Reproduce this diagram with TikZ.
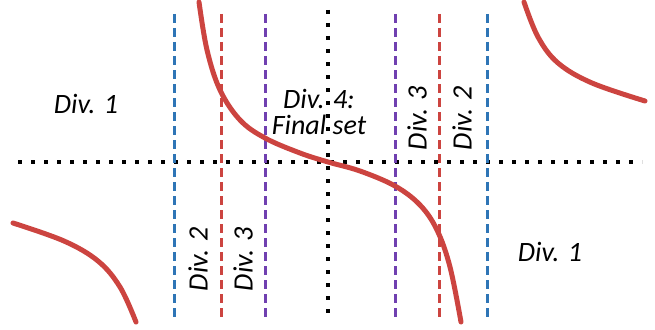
\documentclass[tikz,border=0pt]{standalone}
\usepackage{fontspec}
\setmainfont{Carlito}
\definecolor{cblue}{HTML}{2E75B6}
\definecolor{cred}{HTML}{CC4440}
\definecolor{cpurple}{HTML}{7040B0}
\begin{document}
\begin{tikzpicture}[x=1pt,y=-1pt,
  axisline/.style={line width=4pt, dash pattern=on 4pt off 9pt, black},
  divline/.style={line width=3pt, dash pattern=on 9pt off 5pt},
  curve/.style={cred, line width=5pt, line cap=round},
  lbl/.style={font=\fontsize{28}{30}\selectfont\itshape, inner sep=0pt, align=center}]
\useasboundingbox (0,0) rectangle (655,329);
% axes
\coordinate (hl) at (18,162); \coordinate (hr) at (642,162);
\coordinate (vt) at (328,10); \coordinate (vb) at (328,318);
\draw[axisline] (hl) -- (hr);
\draw[axisline] (vt) -- (vb);
% division lines
\foreach \x/\c in {174/cblue,487/cblue,221/cred,439/cred,265/cpurple,395/cpurple}{
  \draw[divline,\c] (\x,14) -- (\x,317);
}
% curves
\draw[curve] plot[smooth, tension=0.6] coordinates {(199,2) (207,50) (220,90) (240,120) (265,138) (300,153) (328,162) (360,171) (395,186) (420,205) (437,230) (450,267) (461,322)};
\draw[curve] plot[smooth, tension=0.6] coordinates {(524,2) (538,37) (558,63) (592,83) (645,101)};
\draw[curve] plot[smooth, tension=0.6] coordinates {(136,322) (120,287) (98,261) (64,241) (13,223)};
% labels
\node[lbl] (d1l) at (86,104) {Div. 1};
\node[lbl] (d1r) at (550,252) {Div. 1};
\node[lbl, align=center] (d4) at (319,112) {Div. 4:\\[-4pt]Final set};
\node[lbl, rotate=90] (d3t) at (417,118) {Div. 3};
\node[lbl, rotate=90] (d2t) at (462,118) {Div. 2};
\node[lbl, rotate=90] (d2b) at (198,259) {Div. 2};
\node[lbl, rotate=90] (d3b) at (243,259) {Div. 3};
\end{tikzpicture}
\end{document}
